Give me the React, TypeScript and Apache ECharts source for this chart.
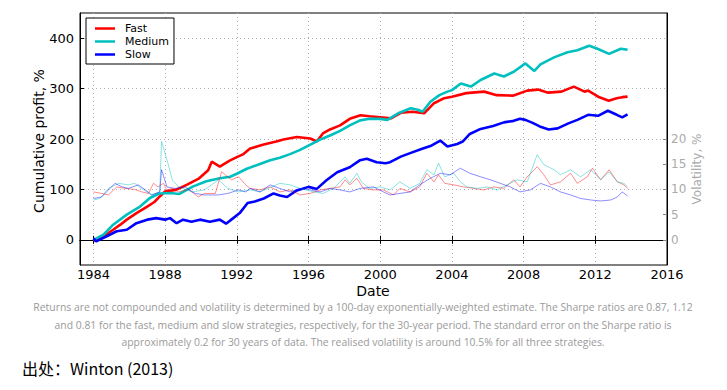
import React, { useEffect, useRef } from "react";
import * as echarts from "echarts";

const xTicks = [1984, 1988, 1992, 1996, 2000, 2004, 2008, 2012, 2016];
const profitTicks = [0, 100, 200, 300, 400];
const volTicks = [0, 5, 10, 15, 20];
const legendNames = ["Fast", "Medium", "Slow"];

const fastProfit = [
  [1984.0, -2], [1984.3, 3], [1984.56, 7], [1985.1, 20], [1985.5, 30], [1985.86, 40], [1986.4, 53],
  [1987.0, 66], [1987.4, 75], [1987.7, 86], [1988.0, 96], [1988.6, 99], [1989.2, 109], [1989.9, 122],
  [1990.4, 138], [1990.6, 155], [1991.05, 145], [1991.6, 157], [1992.0, 164], [1992.37, 170],
  [1992.74, 181], [1993.5, 189], [1994.2, 195], [1994.6, 199], [1995.35, 204], [1996.1, 201],
  [1996.46, 195], [1996.8, 211], [1997.2, 219], [1997.76, 227], [1998.3, 240], [1998.9, 247],
  [1999.4, 245], [2000.0, 243], [2000.6, 241], [2001.15, 252], [2001.8, 254], [2002.45, 251],
  [2003.0, 271], [2003.57, 281], [2004.0, 284], [2004.8, 291], [2005.8, 294], [2006.5, 287],
  [2007.4, 286], [2008.2, 296], [2008.8, 298], [2009.37, 292], [2010.11, 294], [2010.8, 304],
  [2011.4, 294], [2011.6, 296], [2012.16, 284], [2012.75, 276], [2013.19, 281], [2013.5, 283],
  [2013.8, 284],
];

const mediumProfit = [
  [1984.0, 0], [1984.56, 10], [1985.1, 30], [1985.86, 50], [1986.6, 66], [1987.15, 83], [1987.7, 92],
  [1988.27, 93], [1988.8, 91], [1989.57, 106], [1990.3, 116], [1991.05, 122], [1991.63, 125],
  [1992.0, 131], [1992.56, 141], [1993.1, 148], [1993.86, 158], [1994.4, 163], [1994.97, 170],
  [1995.5, 178], [1996.1, 189], [1996.65, 199], [1997.2, 207], [1997.76, 216], [1998.3, 227],
  [1998.88, 237], [1999.4, 240], [2000.0, 240], [2000.4, 238], [2001.0, 251], [2001.7, 261],
  [2002.1, 258], [2002.36, 254], [2002.8, 274], [2003.3, 287], [2003.75, 294], [2004.0, 297],
  [2004.5, 310], [2005.06, 304], [2005.6, 317], [2006.36, 330], [2006.9, 324], [2007.47, 334],
  [2008.1, 350], [2008.6, 335], [2008.94, 348], [2009.7, 362], [2010.45, 372], [2011.0, 376],
  [2011.66, 385], [2012.12, 379], [2012.77, 369], [2013.42, 379], [2013.8, 377],
];

const slowProfit = [
  [1984.0, 3], [1984.15, -3], [1984.74, 7], [1985.3, 17], [1985.86, 20], [1986.4, 33], [1987.0, 40],
  [1987.5, 43], [1988.0, 40], [1988.27, 43], [1988.64, 33], [1989.0, 40], [1989.47, 36],
  [1989.94, 40], [1990.5, 36], [1991.05, 40], [1991.4, 32], [1991.8, 43], [1992.16, 53],
  [1992.6, 73], [1993.0, 76], [1993.5, 82], [1994.05, 92], [1994.4, 88], [1994.8, 85],
  [1995.35, 98], [1996.0, 105], [1996.46, 101], [1997.0, 118], [1997.6, 134], [1998.3, 144],
  [1998.88, 158], [1999.25, 161], [1999.8, 154], [2000.3, 152], [2000.55, 154], [2001.15, 165],
  [2001.67, 172], [2002.3, 180], [2002.8, 186], [2003.35, 197], [2003.75, 185], [2004.3, 190],
  [2004.6, 195], [2005.0, 210], [2005.6, 220], [2006.3, 226], [2006.9, 233], [2007.45, 236],
  [2007.8, 240], [2008.1, 238], [2008.5, 232], [2008.9, 225], [2009.4, 219], [2009.9, 221],
  [2010.5, 231], [2011.0, 238], [2011.6, 248], [2012.15, 246], [2012.7, 256], [2013.2, 248],
  [2013.5, 243], [2013.8, 249],
];

const fastVol = [
  [1984.0, 9.5], [1984.45, 9.2], [1984.84, 8.9], [1985.3, 10.5], [1985.77, 10.2], [1986.3, 10.0],
  [1986.7, 9.5], [1987.07, 9.2], [1987.35, 11.2], [1987.6, 10.5], [1987.9, 11.2], [1988.1, 9.9],
  [1988.4, 10.2], [1988.75, 9.5], [1989.3, 10.0], [1989.85, 8.5], [1990.2, 9.2], [1990.8, 9.2],
  [1991.15, 13.5], [1991.7, 11.9], [1992.1, 12.5], [1992.5, 10.9], [1992.74, 10.2], [1993.3, 9.9],
  [1993.86, 10.5], [1994.4, 9.5], [1994.97, 9.9], [1995.53, 8.9], [1996.1, 9.2], [1996.65, 9.9],
  [1997.2, 10.2], [1997.76, 10.5], [1998.04, 11.9], [1998.3, 10.9], [1998.7, 12.2], [1999.06, 10.2],
  [1999.62, 9.9], [2000.18, 9.9], [2000.74, 8.9], [2001.1, 10.2], [2001.67, 9.5], [2002.2, 10.5],
  [2002.6, 13.2], [2003.0, 11.5], [2003.25, 12.9], [2003.6, 11.2], [2004.1, 10.9], [2004.65, 10.5],
  [2005.2, 10.2], [2005.77, 9.9], [2006.33, 10.5], [2006.9, 10.2], [2007.45, 11.9], [2007.8, 10.5],
  [2008.2, 12.5], [2008.76, 14.5], [2009.13, 12.9], [2009.5, 10.9], [2010.06, 11.5], [2010.62, 13.2],
  [2011.0, 11.2], [2011.55, 12.5], [2011.84, 14.2], [2012.3, 11.9], [2012.77, 13.9], [2013.23, 11.5],
  [2013.6, 10.9], [2013.8, 10.2],
];

const mediumVol = [
  [1984.0, 7.9], [1984.37, 8.2], [1984.84, 10.2], [1985.4, 11.2], [1985.95, 10.9], [1986.3, 11.2],
  [1986.8, 9.9], [1987.25, 8.9], [1987.7, 9.5], [1987.8, 19.5], [1988.1, 15.9], [1988.4, 11.9],
  [1988.75, 10.5], [1989.5, 9.5], [1990.2, 9.9], [1990.97, 11.9], [1991.5, 10.2], [1992.1, 9.5],
  [1992.74, 9.9], [1993.3, 9.5], [1994.4, 11.2], [1994.97, 10.9], [1995.53, 10.2], [1996.3, 9.5],
  [1996.8, 9.2], [1997.4, 10.2], [1998.04, 12.5], [1998.3, 11.2], [1998.7, 13.2], [1998.95, 11.5],
  [1999.4, 10.2], [2000.0, 10.5], [2000.55, 9.9], [2001.1, 11.5], [2001.67, 10.2], [2002.2, 11.2],
  [2002.6, 13.9], [2003.0, 12.9], [2003.25, 15.2], [2003.6, 12.5], [2004.1, 13.2], [2004.47, 11.5],
  [2004.84, 10.5], [2005.4, 10.2], [2005.96, 10.5], [2006.52, 9.9], [2007.08, 10.9], [2007.64, 11.9],
  [2008.2, 11.5], [2008.76, 16.9], [2009.13, 14.9], [2009.7, 13.9], [2010.06, 12.9], [2010.62, 13.9],
  [2011.18, 12.5], [2011.74, 13.9], [2012.3, 11.9], [2012.77, 13.5], [2013.23, 11.5], [2013.6, 11.2],
  [2013.8, 10.5],
];

const slowVol = [
  [1984.0, 8.2], [1984.45, 8.5], [1984.84, 9.9], [1985.2, 11.2], [1985.6, 10.5], [1985.95, 10.2],
  [1986.5, 10.9], [1986.9, 9.9], [1987.25, 8.9], [1987.7, 9.5], [1987.8, 13.9], [1988.1, 10.5],
  [1988.55, 10.2], [1989.1, 10.5], [1989.67, 9.2], [1990.2, 8.9], [1990.97, 8.9], [1991.5, 9.2],
  [1992.1, 9.9], [1992.5, 9.5], [1992.74, 10.2], [1993.3, 9.5], [1993.86, 10.9], [1994.4, 10.2],
  [1994.97, 9.5], [1995.53, 10.2], [1996.1, 9.9], [1996.65, 9.5], [1997.2, 10.2], [1997.76, 9.9],
  [1998.3, 9.5], [1998.88, 10.2], [1999.62, 10.5], [2000.18, 9.5], [2000.55, 8.9], [2001.1, 9.2],
  [2001.67, 9.5], [2002.2, 10.9], [2002.8, 12.2], [2003.35, 13.2], [2003.9, 12.9], [2004.47, 14.2],
  [2005.0, 13.2], [2005.6, 12.5], [2006.15, 11.9], [2006.7, 11.2], [2007.26, 10.5], [2007.8, 9.5],
  [2008.38, 9.9], [2008.94, 11.2], [2009.5, 10.5], [2010.06, 9.5], [2010.62, 8.9], [2011.18, 8.2],
  [2011.74, 7.9], [2012.3, 7.7], [2012.86, 7.9], [2013.23, 8.5], [2013.5, 9.5], [2013.8, 8.7],
];

const captionLines = [
  "Returns are not compounded and volatility is determined by a 100-day exponentially-weighted estimate. The Sharpe ratios are 0.87, 1.12",
  "and 0.81 for the fast, medium and slow strategies, respectively, for the 30-year period. The standard error on the Sharpe ratio is",
  "approximately 0.2 for 30 years of data. The realised volatility is around 10.5% for all three strategies.",
];
const sourceText = "出处：Winton (2013)";

const RED = "#ff0000";
const CYAN = "#00bfbf";
const BLUE = "#0000ff";
const FONT = "DejaVu Sans";

export default function App() {
  const ref = useRef<HTMLDivElement>(null);
  useEffect(() => {
    document.body.style.margin = "0";
    const chart = echarts.init(ref.current!, null, { renderer: "svg" });
    const mainLine = (name: string, data: number[][], color: string) => ({
      name, type: "line", data, xAxisIndex: 0, yAxisIndex: 0, showSymbol: false, symbol: "none",
      lineStyle: { color, width: 2.6 }, itemStyle: { color }, z: 3,
    });
    const volLine = (name: string, data: number[][], color: string) => ({
      name, type: "line", data, xAxisIndex: 0, yAxisIndex: 1, showSymbol: false, symbol: "none",
      lineStyle: { color, width: 1, opacity: 0.45 }, itemStyle: { color }, z: 4,
    });
    chart.setOption({
      animation: false,
      grid: { left: 80, right: 60, top: 13, bottom: 125, show: true, borderColor: "#000", borderWidth: 1, backgroundColor: "transparent" },
      legend: {
        data: legendNames, left: 86, top: 18, orient: "vertical", icon: "rect",
        itemWidth: 20, itemHeight: 2.5, itemGap: 0, padding: [4, 5, 3, 9],
        borderColor: "#000", borderWidth: 1, borderRadius: 0, backgroundColor: "#fff",
        textStyle: { fontFamily: FONT, fontSize: 11, lineHeight: 13, color: "#000", padding: [0, 0, 0, 5] },
      },
      xAxis: [
        {
          type: "value", min: 1983.25, max: 2016, position: "bottom",
          axisLine: { show: true, lineStyle: { color: "#000" } },
          axisTick: { show: true, inside: true, length: 4, customValues: xTicks, lineStyle: { color: "#000" } },
          axisLabel: { customValues: xTicks, color: "#000", fontFamily: FONT, fontSize: 13, margin: 3, formatter: (v: number) => String(v) },
          splitLine: { show: true, lineStyle: { color: "#b0b0b0", type: [1, 3], width: 1 } },
        },
        {
          type: "value", min: 1983.25, max: 2016, position: "top",
          axisLine: { show: true, lineStyle: { color: "#000" } },
          axisTick: { show: true, inside: true, length: 4, customValues: xTicks, lineStyle: { color: "#000" } },
          axisLabel: { show: false },
          splitLine: { show: false },
        },
      ],
      yAxis: [
        {
          type: "value", min: -50, max: 450, position: "left",
          axisLine: { show: true, lineStyle: { color: "#000" } },
          axisTick: { show: true, inside: true, length: 4, customValues: profitTicks, lineStyle: { color: "#000" } },
          axisLabel: { customValues: profitTicks, color: "#000", fontFamily: FONT, fontSize: 13, margin: 6 },
          splitLine: { show: true, lineStyle: { color: "#b0b0b0", type: [1, 3], width: 1 } },
        },
        {
          type: "value", min: -5, max: 45, position: "right",
          axisLine: { show: true, lineStyle: { color: "#000" } },
          axisTick: { show: true, inside: true, length: 4, customValues: volTicks, lineStyle: { color: "#888" } },
          axisLabel: { customValues: volTicks, color: "#aaaaaa", fontFamily: FONT, fontSize: 12, margin: 4 },
          splitLine: { show: false },
        },
      ],
      series: [
        mainLine("Fast", fastProfit, RED),
        mainLine("Medium", mediumProfit, CYAN),
        mainLine("Slow", slowProfit, BLUE),
        volLine("Fast volatility", fastVol, RED),
        volLine("Medium volatility", mediumVol, CYAN),
        volLine("Slow volatility", slowVol, BLUE),
      ],
      graphic: [
        { type: "text", x: 39, y: 141, rotation: Math.PI / 2, style: { text: "Cumulative profit, %", fontFamily: FONT, fontSize: 14, fill: "#000", align: "center", verticalAlign: "middle" } },
        { type: "text", x: 697, y: 169, rotation: Math.PI / 2, style: { text: "Volatility, %", fontFamily: FONT, fontSize: 12, fill: "#aaaaaa", align: "center", verticalAlign: "middle" } },
        { type: "text", x: 373, y: 291, style: { text: "Date", fontFamily: FONT, fontSize: 14, fill: "#000", align: "center", verticalAlign: "middle" } },
        ...captionLines.map((t, i) => ({
          type: "text", x: 363, y: 307 + i * 17.5,
          style: { text: t, fontFamily: "Open Sans", fontSize: 10.4, fill: "#9a9a9a", align: "center", verticalAlign: "middle" },
        })),
        { type: "text", x: 22, y: 368, style: { text: sourceText, fontFamily: "Noto Sans CJK SC", fontSize: 16, fill: "#000", align: "left", verticalAlign: "middle" } },
      ],
    });
    return () => chart.dispose();
  }, []);
  return <div ref={ref} style={{ width: 727, height: 390 }} />;
}
